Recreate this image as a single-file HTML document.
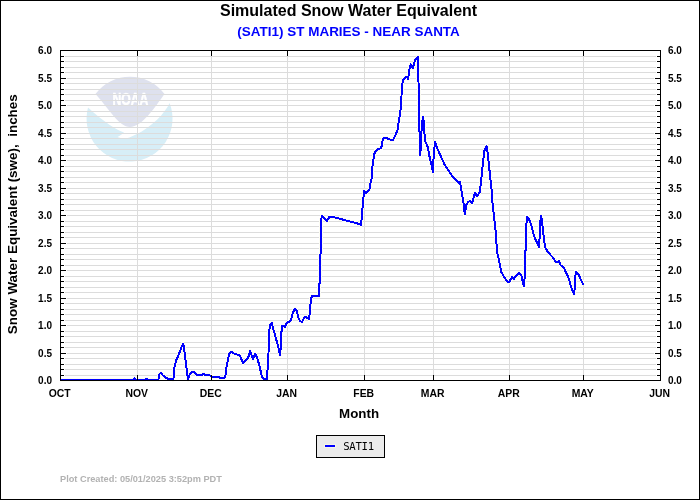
<!DOCTYPE html>
<html lang="en"><head><meta charset="utf-8"><title>Simulated Snow Water Equivalent - (SATI1) ST MARIES - NEAR SANTA</title>
<style>
html,body{margin:0;padding:0;background:#fff;}
body{width:700px;height:500px;overflow:hidden;}
svg{display:block;will-change:transform;}
text{font-family:'Liberation Sans', Arial, Helvetica, sans-serif;font-weight:bold;fill:#000;}
.tick{font-size:10px;}
.axt{font-size:13.33px;}
</style></head><body>
<svg width="700" height="500" viewBox="0 0 700 500">
<rect x="0" y="0" width="700" height="500" fill="#fff"/>
<g id="noaa-watermark">
<path d="M95.5 94A43 43 0 0 1 164.5 94C155 107 142 127 130 127C119 127 110 110 95.5 94Z" fill="#dee1ee"/>
<path d="M88 107.5A43 43 0 1 0 169.6 103C165 113 152 127 136 134.5C133 136 130 137.4 127.5 138C124 138.6 120 138 117.5 137C120 135.5 122.5 134 124 132.5C116 130 104 122 88 107.5Z" fill="#d7eef7"/>
<text x="112.4" y="104.6" font-size="15.6" textLength="36" lengthAdjust="spacingAndGlyphs" style="fill:#ffffff;stroke:#ffffff;stroke-width:0.5px">NOAA</text>
</g>

<path d="M61 375.5H660M61 369.5H660M61 364.5H660M61 358.5H660M61 353.5H660M61 347.5H660M61 342.5H660M61 336.5H660M61 331.5H660M61 325.5H660M61 320.5H660M61 314.5H660M61 309.5H660M61 303.5H660M61 298.5H660M61 292.5H660M61 287.5H660M61 281.5H660M61 276.5H660M61 270.5H660M61 265.5H660M61 259.5H660M61 254.5H660M61 248.5H660M61 243.5H660M61 237.5H660M61 232.5H660M61 226.5H660M61 221.5H660M61 215.5H660M61 210.5H660M61 204.5H660M61 199.5H660M61 193.5H660M61 188.5H660M61 182.5H660M61 177.5H660M61 171.5H660M61 166.5H660M61 160.5H660M61 155.5H660M61 149.5H660M61 144.5H660M61 138.5H660M61 133.5H660M61 127.5H660M61 122.5H660M61 116.5H660M61 111.5H660M61 105.5H660M61 100.5H660M61 94.5H660M61 89.5H660M61 83.5H660M61 78.5H660M61 72.5H660M61 67.5H660M61 61.5H660M61 56.5H660M137.5 51V380M211.5 51V380M287.5 51V380M364.5 51V380M433.5 51V380M509.5 51V380M583.5 51V380" stroke="#dcdcdc" stroke-width="1" fill="none" shape-rendering="crispEdges"/>
<path d="M60 380 L132.6 380 L133.4 379.2 L134.5 378.1 L135.6 379.2 L136.4 380 L145 380 L146 379 L147.5 379 L148.5 380 L158.3 380 L159.5 374 L161 372.8 L162.5 375 L165.7 377.8 L169.3 379.2 L173.4 379.6 L174.3 368 L176 360.7 L177.9 356.4 L182.9 343.8 L184 347.1 L185 355.7 L186 363.6 L187.1 372.9 L188 379.7 L190 373.6 L192.1 371.9 L193.6 372 L197.1 375 L201.4 375 L203.6 374 L205.7 375 L209 375 L211.5 376.5 L218 376.5 L220 378 L224.5 378 L225.5 375 L226.5 367 L228 359 L229.5 353.5 L231 351.5 L235 354 L239.5 355 L243 363 L248 358.5 L250 351 L251.2 354 L252.8 359 L255 353.8 L257 357 L259.5 366 L262 377 L264 379 L266.5 379.7 L267.5 370 L268.5 353 L269.1 335 L269.8 325.5 L272 323.2 L272.5 326 L275 335 L278.5 348 L280 355 L280.8 347 L281.2 334 L282.2 326.2 L283.2 325.8 L285 327 L287 322.5 L290 321.5 L291.5 318 L293 312.5 L295 308.8 L296.5 310.5 L298.5 318 L300 321 L302 322 L304.5 317 L306 317.2 L309 318.8 L309.5 315 L310.3 307 L311 299 L312.2 295.5 L319 296 L319.3 284 L320 283 L320.4 260 L321 229 L321.6 215.8 L322.5 216.5 L326.8 221 L329.5 216.7 L332 216.7 L360 224.2 L361 225 L361.5 220 L362.5 208 L363.5 197 L363.9 190.9 L366 193 L369.5 189.5 L370.2 184.6 L371.6 178.3 L372 169.2 L373.4 160.1 L374.1 154.5 L375.8 151 L377.9 148.9 L381.1 148.2 L382.1 144 L382.8 139.1 L384.2 137.7 L386.3 138 L390.5 139.8 L393 139.8 L395.4 135.6 L397.5 130 L398.9 120 L400.3 113 L401 103.2 L402 88.5 L402.8 80.1 L406.6 76.6 L408 79.1 L409 72.4 L409.8 67.5 L410.8 64.4 L412.9 68.2 L414 64 L415 60.5 L418.1 56.5 L418.5 81.5 L418.9 130.1 L419.9 132.2 L419.9 155.3 L421 147.6 L421.7 125.2 L423.1 116.5 L423.8 122.4 L424.5 133.6 L424.9 140.6 L428 147.6 L429.4 156 L431.5 165.1 L433 172.2 L433.7 154 L435.1 141.7 L436.9 147.7 L444.6 164.5 L453 177.1 L458.6 182.7 L460 182 L460.7 186.2 L462.1 194.6 L463.5 203 L464.8 214.5 L466.2 204.7 L468.3 201.9 L470.4 200.9 L472.1 203.3 L473.5 197.7 L475 192.8 L477 196.3 L479.6 192.5 L481 182 L482.4 168 L483.5 158.2 L484.5 150.5 L486.6 145.9 L487.3 150.5 L488.7 162.4 L490.1 176.4 L491.5 189 L492.5 202.6 L494.2 218 L495.9 233.4 L496.6 246 L497.2 253 L499 260.2 L501.4 272.2 L503.8 276.4 L507.4 282 L509.2 281.8 L512.2 277 L514 278.8 L515.8 275.8 L518.8 272.8 L521.4 275.2 L522.6 281.8 L524 286.6 L524.8 274.6 L525 251.2 L525.8 250 L526.2 228 L527 216.5 L528.5 218 L531 224 L534 236 L539 247 L539.5 239 L540 224 L541 215.5 L542 221 L543 230 L544 239 L545.2 247.6 L547 250.5 L550 254.5 L553 257.5 L555.5 261.8 L558 261.8 L559 260.5 L560.5 265 L564 268 L566.5 273.5 L569 279 L571 287 L574 294 L574.7 288 L575.2 277 L576 271.5 L578.5 274.5 L583.5 285" stroke="#fcfcf3" stroke-width="4" fill="none" stroke-linejoin="round" stroke-linecap="butt" shape-rendering="crispEdges"/>
<path d="M60 380 L132.6 380 L133.4 379.2 L134.5 378.1 L135.6 379.2 L136.4 380 L145 380 L146 379 L147.5 379 L148.5 380 L158.3 380 L159.5 374 L161 372.8 L162.5 375 L165.7 377.8 L169.3 379.2 L173.4 379.6 L174.3 368 L176 360.7 L177.9 356.4 L182.9 343.8 L184 347.1 L185 355.7 L186 363.6 L187.1 372.9 L188 379.7 L190 373.6 L192.1 371.9 L193.6 372 L197.1 375 L201.4 375 L203.6 374 L205.7 375 L209 375 L211.5 376.5 L218 376.5 L220 378 L224.5 378 L225.5 375 L226.5 367 L228 359 L229.5 353.5 L231 351.5 L235 354 L239.5 355 L243 363 L248 358.5 L250 351 L251.2 354 L252.8 359 L255 353.8 L257 357 L259.5 366 L262 377 L264 379 L266.5 379.7 L267.5 370 L268.5 353 L269.1 335 L269.8 325.5 L272 323.2 L272.5 326 L275 335 L278.5 348 L280 355 L280.8 347 L281.2 334 L282.2 326.2 L283.2 325.8 L285 327 L287 322.5 L290 321.5 L291.5 318 L293 312.5 L295 308.8 L296.5 310.5 L298.5 318 L300 321 L302 322 L304.5 317 L306 317.2 L309 318.8 L309.5 315 L310.3 307 L311 299 L312.2 295.5 L319 296 L319.3 284 L320 283 L320.4 260 L321 229 L321.6 215.8 L322.5 216.5 L326.8 221 L329.5 216.7 L332 216.7 L360 224.2 L361 225 L361.5 220 L362.5 208 L363.5 197 L363.9 190.9 L366 193 L369.5 189.5 L370.2 184.6 L371.6 178.3 L372 169.2 L373.4 160.1 L374.1 154.5 L375.8 151 L377.9 148.9 L381.1 148.2 L382.1 144 L382.8 139.1 L384.2 137.7 L386.3 138 L390.5 139.8 L393 139.8 L395.4 135.6 L397.5 130 L398.9 120 L400.3 113 L401 103.2 L402 88.5 L402.8 80.1 L406.6 76.6 L408 79.1 L409 72.4 L409.8 67.5 L410.8 64.4 L412.9 68.2 L414 64 L415 60.5 L418.1 56.5 L418.5 81.5 L418.9 130.1 L419.9 132.2 L419.9 155.3 L421 147.6 L421.7 125.2 L423.1 116.5 L423.8 122.4 L424.5 133.6 L424.9 140.6 L428 147.6 L429.4 156 L431.5 165.1 L433 172.2 L433.7 154 L435.1 141.7 L436.9 147.7 L444.6 164.5 L453 177.1 L458.6 182.7 L460 182 L460.7 186.2 L462.1 194.6 L463.5 203 L464.8 214.5 L466.2 204.7 L468.3 201.9 L470.4 200.9 L472.1 203.3 L473.5 197.7 L475 192.8 L477 196.3 L479.6 192.5 L481 182 L482.4 168 L483.5 158.2 L484.5 150.5 L486.6 145.9 L487.3 150.5 L488.7 162.4 L490.1 176.4 L491.5 189 L492.5 202.6 L494.2 218 L495.9 233.4 L496.6 246 L497.2 253 L499 260.2 L501.4 272.2 L503.8 276.4 L507.4 282 L509.2 281.8 L512.2 277 L514 278.8 L515.8 275.8 L518.8 272.8 L521.4 275.2 L522.6 281.8 L524 286.6 L524.8 274.6 L525 251.2 L525.8 250 L526.2 228 L527 216.5 L528.5 218 L531 224 L534 236 L539 247 L539.5 239 L540 224 L541 215.5 L542 221 L543 230 L544 239 L545.2 247.6 L547 250.5 L550 254.5 L553 257.5 L555.5 261.8 L558 261.8 L559 260.5 L560.5 265 L564 268 L566.5 273.5 L569 279 L571 287 L574 294 L574.7 288 L575.2 277 L576 271.5 L578.5 274.5 L583.5 285" stroke="#0000ff" stroke-width="2" fill="none" stroke-linejoin="round" stroke-linecap="butt" shape-rendering="crispEdges"/>
<path d="M61 375.5h4M660 375.5h-4M61 369.5h4M660 369.5h-4M61 364.5h4M660 364.5h-4M61 358.5h4M660 358.5h-4M61 353.5h6M660 353.5h-6M61 347.5h4M660 347.5h-4M61 342.5h4M660 342.5h-4M61 336.5h4M660 336.5h-4M61 331.5h4M660 331.5h-4M61 325.5h6M660 325.5h-6M61 320.5h4M660 320.5h-4M61 314.5h4M660 314.5h-4M61 309.5h4M660 309.5h-4M61 303.5h4M660 303.5h-4M61 298.5h6M660 298.5h-6M61 292.5h4M660 292.5h-4M61 287.5h4M660 287.5h-4M61 281.5h4M660 281.5h-4M61 276.5h4M660 276.5h-4M61 270.5h6M660 270.5h-6M61 265.5h4M660 265.5h-4M61 259.5h4M660 259.5h-4M61 254.5h4M660 254.5h-4M61 248.5h4M660 248.5h-4M61 243.5h6M660 243.5h-6M61 237.5h4M660 237.5h-4M61 232.5h4M660 232.5h-4M61 226.5h4M660 226.5h-4M61 221.5h4M660 221.5h-4M61 215.5h6M660 215.5h-6M61 210.5h4M660 210.5h-4M61 204.5h4M660 204.5h-4M61 199.5h4M660 199.5h-4M61 193.5h4M660 193.5h-4M61 188.5h6M660 188.5h-6M61 182.5h4M660 182.5h-4M61 177.5h4M660 177.5h-4M61 171.5h4M660 171.5h-4M61 166.5h4M660 166.5h-4M61 160.5h6M660 160.5h-6M61 155.5h4M660 155.5h-4M61 149.5h4M660 149.5h-4M61 144.5h4M660 144.5h-4M61 138.5h4M660 138.5h-4M61 133.5h6M660 133.5h-6M61 127.5h4M660 127.5h-4M61 122.5h4M660 122.5h-4M61 116.5h4M660 116.5h-4M61 111.5h4M660 111.5h-4M61 105.5h6M660 105.5h-6M61 100.5h4M660 100.5h-4M61 94.5h4M660 94.5h-4M61 89.5h4M660 89.5h-4M61 83.5h4M660 83.5h-4M61 78.5h6M660 78.5h-6M61 72.5h4M660 72.5h-4M61 67.5h4M660 67.5h-4M61 61.5h4M660 61.5h-4M61 56.5h4M660 56.5h-4" stroke="#fff" stroke-width="1" fill="none" shape-rendering="crispEdges"/>
<path d="M61 375.5h3M660 375.5h-3M61 369.5h3M660 369.5h-3M61 364.5h3M660 364.5h-3M61 358.5h3M660 358.5h-3M61 353.5h5M660 353.5h-5M61 347.5h3M660 347.5h-3M61 342.5h3M660 342.5h-3M61 336.5h3M660 336.5h-3M61 331.5h3M660 331.5h-3M61 325.5h5M660 325.5h-5M61 320.5h3M660 320.5h-3M61 314.5h3M660 314.5h-3M61 309.5h3M660 309.5h-3M61 303.5h3M660 303.5h-3M61 298.5h5M660 298.5h-5M61 292.5h3M660 292.5h-3M61 287.5h3M660 287.5h-3M61 281.5h3M660 281.5h-3M61 276.5h3M660 276.5h-3M61 270.5h5M660 270.5h-5M61 265.5h3M660 265.5h-3M61 259.5h3M660 259.5h-3M61 254.5h3M660 254.5h-3M61 248.5h3M660 248.5h-3M61 243.5h5M660 243.5h-5M61 237.5h3M660 237.5h-3M61 232.5h3M660 232.5h-3M61 226.5h3M660 226.5h-3M61 221.5h3M660 221.5h-3M61 215.5h5M660 215.5h-5M61 210.5h3M660 210.5h-3M61 204.5h3M660 204.5h-3M61 199.5h3M660 199.5h-3M61 193.5h3M660 193.5h-3M61 188.5h5M660 188.5h-5M61 182.5h3M660 182.5h-3M61 177.5h3M660 177.5h-3M61 171.5h3M660 171.5h-3M61 166.5h3M660 166.5h-3M61 160.5h5M660 160.5h-5M61 155.5h3M660 155.5h-3M61 149.5h3M660 149.5h-3M61 144.5h3M660 144.5h-3M61 138.5h3M660 138.5h-3M61 133.5h5M660 133.5h-5M61 127.5h3M660 127.5h-3M61 122.5h3M660 122.5h-3M61 116.5h3M660 116.5h-3M61 111.5h3M660 111.5h-3M61 105.5h5M660 105.5h-5M61 100.5h3M660 100.5h-3M61 94.5h3M660 94.5h-3M61 89.5h3M660 89.5h-3M61 83.5h3M660 83.5h-3M61 78.5h5M660 78.5h-5M61 72.5h3M660 72.5h-3M61 67.5h3M660 67.5h-3M61 61.5h3M660 61.5h-3M61 56.5h3M660 56.5h-3M137.5 51v5M137.5 380v-5M211.5 51v5M211.5 380v-5M287.5 51v5M287.5 380v-5M364.5 51v5M364.5 380v-5M433.5 51v5M433.5 380v-5M509.5 51v5M509.5 380v-5M583.5 51v5M583.5 380v-5" stroke="#000" stroke-width="1" fill="none" shape-rendering="crispEdges"/>
<rect x="60.5" y="50.5" width="600" height="330" fill="none" stroke="#000" stroke-width="1" shape-rendering="crispEdges"/>
<text class="tick" x="52" y="384" text-anchor="end">0.0</text>
<text class="tick" x="668" y="384">0.0</text>
<text class="tick" x="52" y="357" text-anchor="end">0.5</text>
<text class="tick" x="668" y="357">0.5</text>
<text class="tick" x="52" y="329" text-anchor="end">1.0</text>
<text class="tick" x="668" y="329">1.0</text>
<text class="tick" x="52" y="302" text-anchor="end">1.5</text>
<text class="tick" x="668" y="302">1.5</text>
<text class="tick" x="52" y="274" text-anchor="end">2.0</text>
<text class="tick" x="668" y="274">2.0</text>
<text class="tick" x="52" y="247" text-anchor="end">2.5</text>
<text class="tick" x="668" y="247">2.5</text>
<text class="tick" x="52" y="219" text-anchor="end">3.0</text>
<text class="tick" x="668" y="219">3.0</text>
<text class="tick" x="52" y="192" text-anchor="end">3.5</text>
<text class="tick" x="668" y="192">3.5</text>
<text class="tick" x="52" y="164" text-anchor="end">4.0</text>
<text class="tick" x="668" y="164">4.0</text>
<text class="tick" x="52" y="137" text-anchor="end">4.5</text>
<text class="tick" x="668" y="137">4.5</text>
<text class="tick" x="52" y="109" text-anchor="end">5.0</text>
<text class="tick" x="668" y="109">5.0</text>
<text class="tick" x="52" y="82" text-anchor="end">5.5</text>
<text class="tick" x="668" y="82">5.5</text>
<text class="tick" x="52" y="54" text-anchor="end">6.0</text>
<text class="tick" x="668" y="54">6.0</text>
<text x="59.7" y="397" font-size="10.4" text-anchor="middle">OCT</text>
<text x="136.7" y="397" font-size="10.4" text-anchor="middle">NOV</text>
<text x="210.7" y="397" font-size="10.4" text-anchor="middle">DEC</text>
<text x="286.7" y="397" font-size="10.4" text-anchor="middle">JAN</text>
<text x="363.7" y="397" font-size="10.4" text-anchor="middle">FEB</text>
<text x="432.7" y="397" font-size="10.4" text-anchor="middle">MAR</text>
<text x="508.7" y="397" font-size="10.4" text-anchor="middle">APR</text>
<text x="582.7" y="397" font-size="10.4" text-anchor="middle">MAY</text>
<text x="659.7" y="397" font-size="10.4" text-anchor="middle">JUN</text>
<text x="348.6" y="15.8" text-anchor="middle" font-size="16">Simulated Snow Water Equivalent</text>
<text x="348.6" y="36.4" text-anchor="middle" font-size="13.48" style="fill:#0000ff">(SATI1) ST MARIES - NEAR SANTA</text>
<text class="axt" x="359.1" y="418" text-anchor="middle">Month</text>
<text transform="translate(16.6 214.2) rotate(-90)" font-size="13.45" text-anchor="middle" xml:space="preserve" style="white-space:pre">Snow Water Equivalent (swe),  inches</text>
<rect x="316.5" y="435.5" width="68" height="22" fill="#ebebeb" stroke="#000" stroke-width="1" shape-rendering="crispEdges"/>
<rect x="324" y="444" width="12" height="4" fill="#f6f6ea" shape-rendering="crispEdges"/>
<rect x="325" y="445" width="10" height="2" fill="#0000ff" shape-rendering="crispEdges"/>
<text x="343.2" y="450" font-size="10.67" style="font-family:'DejaVu Sans Mono','Liberation Mono',monospace;font-weight:normal;letter-spacing:-0.3px">SATI1</text>
<text x="60" y="482" font-size="9.22" style="fill:#b2b2b2">Plot Created: 05/01/2025 3:52pm PDT</text>
<rect x="0.5" y="0.5" width="699" height="499" fill="none" stroke="#000" stroke-width="1" shape-rendering="crispEdges"/>
</svg></body></html>
